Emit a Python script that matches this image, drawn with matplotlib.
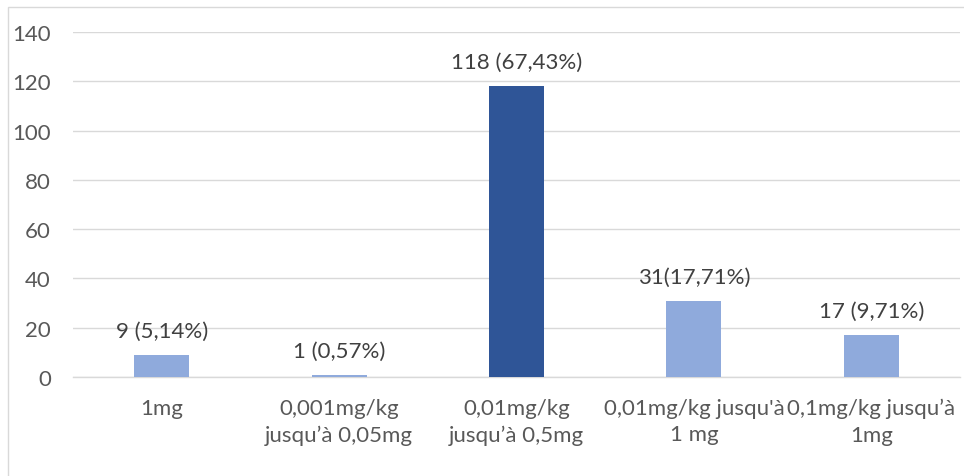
import matplotlib.pyplot as plt
from matplotlib.patches import Rectangle

# Données
categories = ["1mg", "0,001mg/kg\njusqu’à 0,05mg", "0,01mg/kg\njusqu’à 0,5mg",
              "0,01mg/kg jusqu'à\n1 mg", "0,1mg/kg jusqu’à\n1mg"]
effectifs = [9, 1, 118, 31, 17]
etiquettes = ["9 (5,14%)", "1 (0,57%)", "118 (67,43%)", "31(17,71%)", "17 (9,71%)"]

CLAIR = "#8FAADC"
FONCE = "#2F5597"
GRIS = "#595959"
couleurs = [CLAIR, CLAIR, FONCE, CLAIR, CLAIR]
TAILLE = 16

plt.rcParams["font.family"] = ["Lato", "DejaVu Sans"]

fig = plt.figure(figsize=(9.64, 4.77), dpi=100)
ax = fig.add_axes([73 / 964, 1 - 378 / 477, (960 - 73) / 964, (378 - 33) / 477])

x = range(len(categories))
ax.bar(x, effectifs, width=0.31, color=couleurs, zorder=3)

for i, (v, t) in enumerate(zip(effectifs, etiquettes)):
    ax.annotate(t, (i, v), xytext=(0, 10), textcoords="offset points",
                ha="center", va="bottom", fontsize=TAILLE, color="#404040")

ax.set_xlim(-0.5, len(categories) - 0.5)
ax.set_ylim(0, 140)
ax.set_yticks(range(0, 141, 20))
ax.set_xticks(list(x))
ax.set_xticklabels(categories, fontsize=TAILLE, color=GRIS, linespacing=1.4)
ax.tick_params(axis="y", labelsize=TAILLE, labelcolor=GRIS, length=0, pad=16)
ax.tick_params(axis="x", length=0, pad=15)

ax.grid(axis="y", color="#D9D9D9", linewidth=1, zorder=0)
for s in ["top", "right", "left"]:
    ax.spines[s].set_visible(False)
ax.spines["bottom"].set_color("#D9D9D9")
ax.spines["bottom"].set_linewidth(1)

# Cadre du graphique
fig.patches.append(Rectangle((8 / 964, -0.1), 1.2, 1 - 8 / 477 + 0.1,
                             transform=fig.transFigure, fill=False,
                             edgecolor="#D9D9D9", linewidth=1))

fig.savefig("out.png", dpi=100)
